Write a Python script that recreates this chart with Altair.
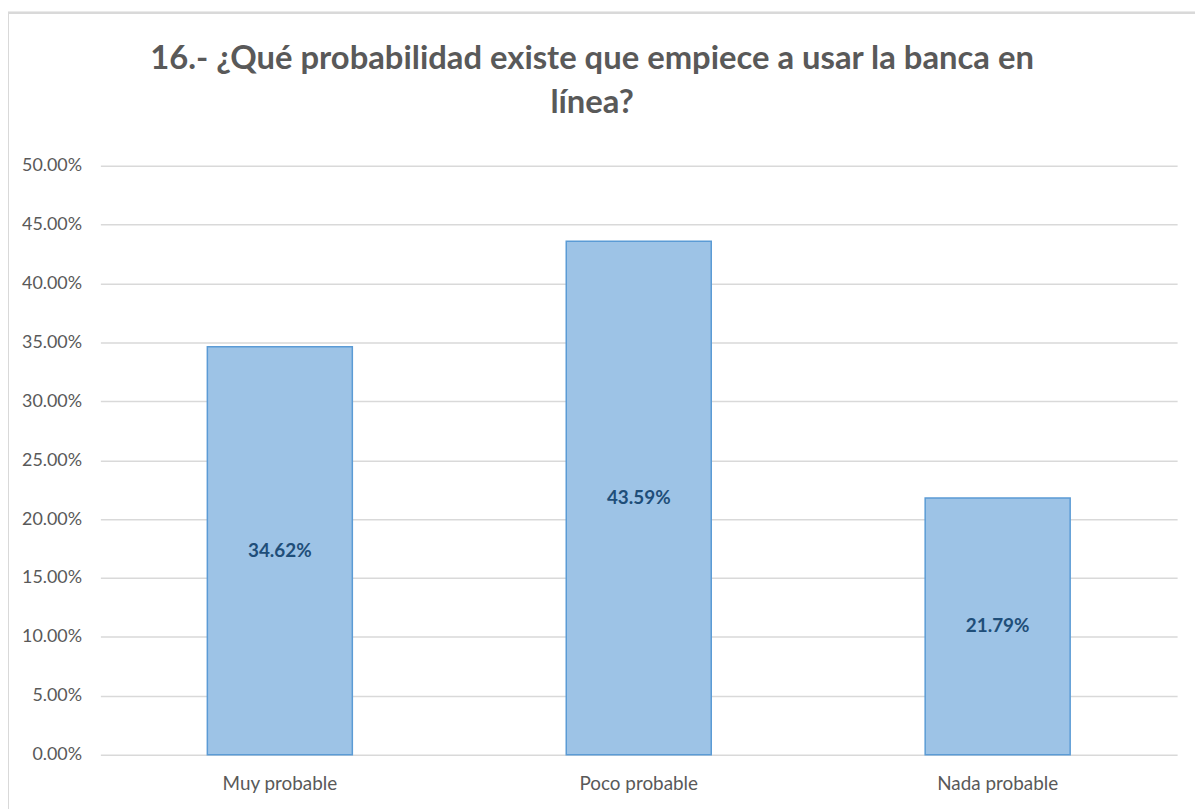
import altair as alt
import pandas as pd

categories = ["Muy probable", "Poco probable", "Nada probable"]
values = [0.3462, 0.4359, 0.2179]
y_ticks = [0.0, 0.05, 0.10, 0.15, 0.20, 0.25, 0.30, 0.35, 0.40, 0.45, 0.50]
title_lines = ["16.- ¿Qué probabilidad existe que empiece a usar la banca en", "línea?"]

df = pd.DataFrame({"cat": categories, "val": values})

FONT = "Lato, sans-serif"
GREY = "#595959"

base = alt.Chart(df)

x_enc = alt.X("cat:N", sort=categories, title=None,
              scale=alt.Scale(paddingInner=0.596, paddingOuter=0.298),
              axis=alt.Axis(labelAngle=0, labelFont=FONT, labelFontSize=19,
                            labelColor=GREY, ticks=False, domain=False,
                            labelPadding=20, grid=False))
y_enc = alt.Y("val:Q", title=None,
              scale=alt.Scale(domain=[0, 0.5], nice=False),
              axis=alt.Axis(values=y_ticks, format=".2%", labelFont=FONT,
                            labelFontSize=18, labelColor=GREY, ticks=False,
                            domain=False, labelPadding=19, gridColor="#D9D9D9",
                            gridWidth=1.5))

border = base.mark_rect(fill=None, stroke="#D9D9D9", strokeWidth=2).encode(
    x=alt.value(-93), x2=alt.value(1200), y=alt.value(-154), y2=alt.value(700)
)

bars = base.mark_bar(color="#9DC3E6", stroke="#5B9BD5", strokeWidth=1.5).encode(
    x=x_enc, y=y_enc
)

labels = base.transform_calculate(mid="datum.val / 2").mark_text(
    font=FONT, fontSize=19, fontWeight="bold", color="#1F4E79"
).encode(
    x=alt.X("cat:N", sort=categories),
    y=alt.Y("mid:Q"),
    text=alt.Text("val:Q", format=".2%"),
)

title = alt.Chart(pd.DataFrame({"t": [0]})).mark_text(
    text=title_lines, font=FONT, fontSize=33, fontWeight="bold", color=GREY,
    align="center", baseline="top", lineHeight=44,
).encode(x=alt.value(495), y=alt.value(-123))

chart = alt.layer(bars, labels, border, title).properties(
    width=1084,
    height=593,
    autosize=alt.AutoSizeParams(type="none"),
    padding={"left": 93, "top": 156, "right": 18, "bottom": 52},
).configure_view(stroke=None)

chart.save("out.html", embed_options={"renderer": "svg", "actions": False})
